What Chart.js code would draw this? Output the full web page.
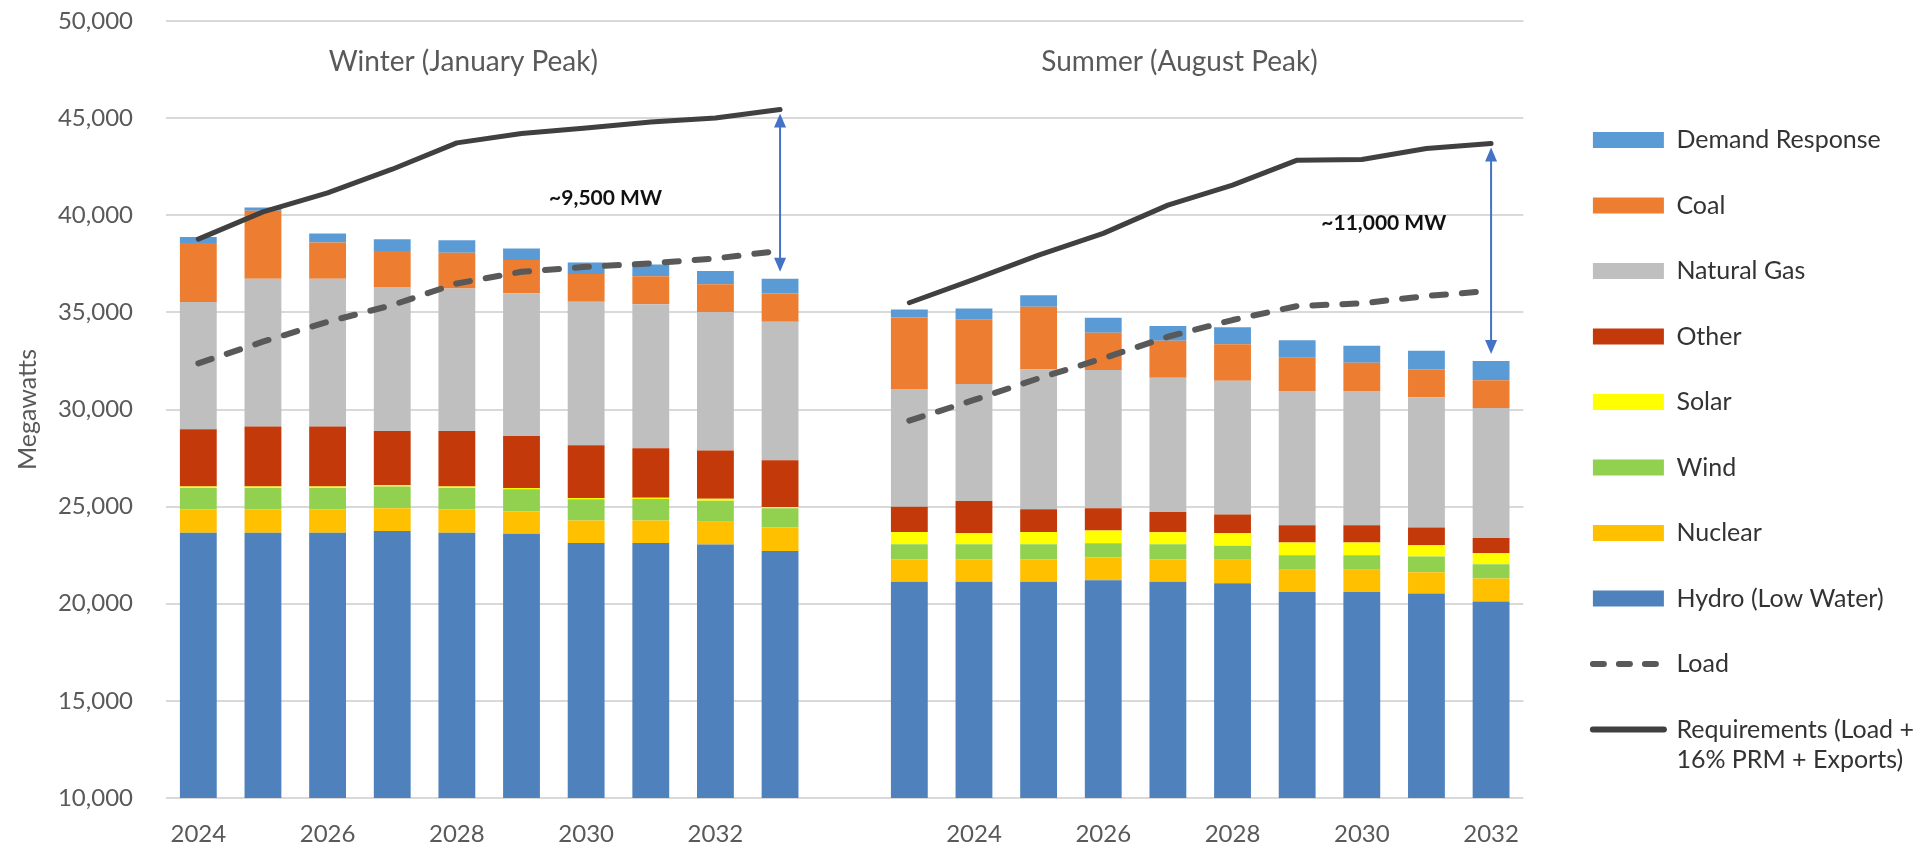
<!DOCTYPE html>
<html><head><meta charset="utf-8">
<script src="https://cdn.jsdelivr.net/npm/chart.js@4.4.1/dist/chart.umd.min.js"></script>
<style>html,body{margin:0;padding:0;background:#fff;overflow:hidden}canvas{display:block}</style>
</head><body>
<canvas id="c" width="1924" height="847"></canvas>
<script>
// ---- categories ----
const winterYears = ['2024','2025','2026','2027','2028','2029','2030','2031','2032','2033'];
const summerYears = ['2023','2024','2025','2026','2027','2028','2029','2030','2031','2032'];

// ---- Winter (January Peak), MW ----
const hydroW   = [23660, 23660, 23660, 23750, 23660, 23600, 23130, 23130, 23050, 22720];
const nuclearW = [1200, 1200, 1200, 1170, 1200, 1150, 1150, 1150, 1170, 1200];
const windW    = [1100, 1100, 1100, 1110, 1100, 1140, 1100, 1115, 1080, 1000];
const solarW   = [70, 70, 70, 70, 70, 75, 65, 65, 100, 65];
const otherW   = [2950, 3090, 3090, 2790, 2865, 2675, 2710, 2540, 2485, 2400];
const gasW     = [6560, 7610, 7610, 7420, 7340, 7340, 7390, 7420, 7135, 7130];
const coalW    = [3035, 3500, 1870, 1850, 1830, 1710, 1425, 1440, 1425, 1460];
const drW      = [310, 175, 460, 600, 650, 600, 600, 600, 685, 750];
const loadW    = [32375, 33490, 34515, 35375, 36490, 37090, 37345, 37520, 37775, 38170];
const reqW     = [38770, 40175, 41150, 42370, 43725, 44210, 44495, 44805, 45010, 45445];

// ---- Summer (August Peak), MW ----
const hydroS   = [21130, 21130, 21130, 21215, 21130, 21060, 20600, 20600, 20525, 20115];
const nuclearS = [1165, 1165, 1165, 1180, 1165, 1200, 1145, 1145, 1100, 1180];
const windS    = [770, 770, 770, 720, 770, 720, 755, 755, 805, 740];
const solarS   = [630, 565, 630, 650, 615, 655, 650, 650, 585, 565];
const otherS   = [1300, 1660, 1170, 1150, 1045, 955, 895, 895, 905, 790];
const gasS     = [6055, 6020, 7200, 7115, 6910, 6895, 6910, 6910, 6705, 6690];
const coalS    = [3690, 3330, 3220, 1920, 1900, 1870, 1715, 1455, 1440, 1425];
const drS      = [410, 565, 600, 770, 770, 875, 895, 875, 960, 990];
const loadS    = [29425, 30490, 31605, 32635, 33745, 34605, 35325, 35465, 35840, 36110];
const reqS     = [35495, 36700, 37945, 39065, 40520, 41550, 42835, 42870, 43435, 43695];

// ---- y-axis ticks ----
const yMin = 10000, yMax = 50000, yStep = 5000;

// ---- text annotations ----
const seasonTitles = [
  {text: 'Winter (January Peak)', at: 4.1, value: 47900},
  {text: 'Summer (August Peak)', at: 15.18, value: 47900}
];
const gapNotes = [
  {text: '~9,500 MW', at: 6.3, value: 40900},
  {text: '~11,000 MW', at: 18.34, value: 39600}
];

const categories = [...winterYears, '', ...summerYears];
const series = (w, s) => [...w, null, ...s];
const sum = arrs => arrs[0].map((_, i) => arrs.reduce((a, r) => a + r[i], 0));
const totalW = sum([hydroW, nuclearW, windW, solarW, otherW, gasW, coalW, drW]);
const totalS = sum([hydroS, nuclearS, windS, solarS, otherS, gasS, coalS, drS]);

const FONT = 'Lato';
const barDs = (label, w, s, color) => ({
  type: 'bar', label, data: series(w, s), backgroundColor: color, borderWidth: 0,
  stack: 'supply', barPercentage: 0.57, categoryPercentage: 1.0
});

const datasets = [
  {type: 'line', label: 'Requirements (Load + 16% PRM + Exports)',
   legendText: ['Requirements (Load +', '16% PRM + Exports)'],
   data: series(reqW, reqS), borderColor: '#404040', borderWidth: 5, pointRadius: 0,
   borderCapStyle: 'round', borderJoinStyle: 'round', tension: 0, fill: false, stack: 'req'},
  {type: 'line', label: 'Load', data: series(loadW, loadS), borderColor: '#595959', borderWidth: 6,
   borderDash: [14, 16], borderCapStyle: 'round', borderJoinStyle: 'round', pointRadius: 0, tension: 0, fill: false, stack: 'load'},
  barDs('Hydro (Low Water)', hydroW, hydroS, '#4F81BD'),
  barDs('Nuclear', nuclearW, nuclearS, '#FFC000'),
  barDs('Wind', windW, windS, '#92D050'),
  barDs('Solar', solarW, solarS, '#FFFF00'),
  barDs('Other', otherW, otherS, '#C4390A'),
  barDs('Natural Gas', gasW, gasS, '#BFBFBF'),
  barDs('Coal', coalW, coalS, '#ED7D31'),
  barDs('Demand Response', drW, drS, '#5B9BD5')
];

const legendOrder = ['Demand Response','Coal','Natural Gas','Other','Solar','Wind','Nuclear','Hydro (Low Water)','Load','Requirements (Load + 16% PRM + Exports)'];

function drawArrow(ctx, xp, yTop, yBot) {
  const head = 14, hw = 6;
  ctx.strokeStyle = '#4472C4'; ctx.fillStyle = '#4472C4'; ctx.lineWidth = 2;
  ctx.beginPath(); ctx.moveTo(xp, yTop + head - 1); ctx.lineTo(xp, yBot - head + 1); ctx.stroke();
  ctx.beginPath(); ctx.moveTo(xp, yTop); ctx.lineTo(xp - hw, yTop + head); ctx.lineTo(xp + hw, yTop + head); ctx.closePath(); ctx.fill();
  ctx.beginPath(); ctx.moveTo(xp, yBot); ctx.lineTo(xp - hw, yBot - head); ctx.lineTo(xp + hw, yBot - head); ctx.closePath(); ctx.fill();
}

const annotPlugin = {
  id: 'annot',
  afterDatasetsDraw(chart) {
    const {ctx, scales: {x, y}} = chart;
    const x0 = x.getPixelForValue(0);
    const step = x.getPixelForValue(1) - x0;
    const px = at => x0 + at * step;
    ctx.save();
    ctx.textAlign = 'center'; ctx.textBaseline = 'middle';
    ctx.font = '28px ' + FONT; ctx.fillStyle = '#595959';
    seasonTitles.forEach(t => ctx.fillText(t.text, px(t.at), y.getPixelForValue(t.value)));
    ctx.font = 'bold 21px ' + FONT; ctx.fillStyle = '#111111';
    gapNotes.forEach(t => ctx.fillText(t.text, px(t.at), y.getPixelForValue(t.value)));
    const wi = winterYears.length - 1;
    const si = categories.length - 1;
    drawArrow(ctx, x.getPixelForValue(wi), y.getPixelForValue(reqW[reqW.length - 1]) + 4, y.getPixelForValue(totalW[totalW.length - 1]) - 7);
    drawArrow(ctx, x.getPixelForValue(si), y.getPixelForValue(reqS[reqS.length - 1]) + 4, y.getPixelForValue(totalS[totalS.length - 1]) - 7);
    ctx.restore();
  }
};

new Chart(document.getElementById('c'), {
  type: 'bar',
  data: {labels: categories, datasets},
  plugins: [annotPlugin],
  options: {
    responsive: false, animation: false, devicePixelRatio: 1,
    layout: {padding: {top: 21, left: 0, right: 0, bottom: 0}},
    plugins: {
      tooltip: {enabled: false},
      legend: {
        position: 'right', align: 'start', maxWidth: 420,
        title: {display: true, text: '', font: {size: 10, lineHeight: 1}, padding: {top: 56, bottom: 0}},
        labels: {
          font: {family: FONT, size: 25}, color: '#333333', padding: 40.5,
          usePointStyle: true, pointStyleWidth: 71, boxHeight: 16,
          generateLabels(chart) {
            return legendOrder.map(name => {
              const i = chart.data.datasets.findIndex(d => d.label === name);
              const ds = chart.data.datasets[i];
              const isLine = ds.type === 'line';
              return {
                text: ds.legendText || ds.label, datasetIndex: i, hidden: false,
                fillStyle: isLine ? 'rgba(0,0,0,0)' : ds.backgroundColor,
                strokeStyle: isLine ? ds.borderColor : ds.backgroundColor,
                lineWidth: isLine ? 6 : 0,
                lineDash: isLine && ds.borderDash ? [11, 15] : [],
                lineCap: isLine ? 'round' : 'butt',
                pointStyle: isLine ? 'line' : 'rect',
                fontColor: '#333333'
              };
            });
          }
        }
      }
    },
    scales: {
      x: {
        type: 'category', stacked: true, offset: true,
        grid: {display: false, drawTicks: false}, border: {display: false},
        ticks: {
          autoSkip: false, maxRotation: 0, minRotation: 0, padding: 22,
          color: '#595959', font: {family: FONT, size: 24},
          callback(v) { const l = this.getLabelForValue(v); return (l && +l % 2 === 0) ? l : ''; }
        },
        afterFit(s) { s.height = 49; s.paddingLeft = 0; s.paddingRight = 0; }
      },
      y: {
        stacked: true, min: yMin, max: yMax,
        grid: {color: '#d9d9d9', lineWidth: 2, drawTicks: false}, border: {display: false},
        ticks: {stepSize: yStep, padding: 33, color: '#595959', font: {family: FONT, size: 24},
                callback: v => v.toLocaleString('en-US')},
        title: {display: true, text: 'Megawatts', color: '#595959', font: {family: FONT, size: 25}, padding: {top: 13, bottom: 0}},
        afterFit(s) { s.width = 166; s.paddingTop = 0; s.paddingBottom = 0; }
      },
      yR: {
        position: 'right', display: true,
        grid: {display: false, drawTicks: false}, border: {display: false}, ticks: {display: false},
        afterFit(s) { s.width = 29; s.paddingTop = 0; s.paddingBottom = 0; }
      }
    }
  }
});
</script>
</body></html>
